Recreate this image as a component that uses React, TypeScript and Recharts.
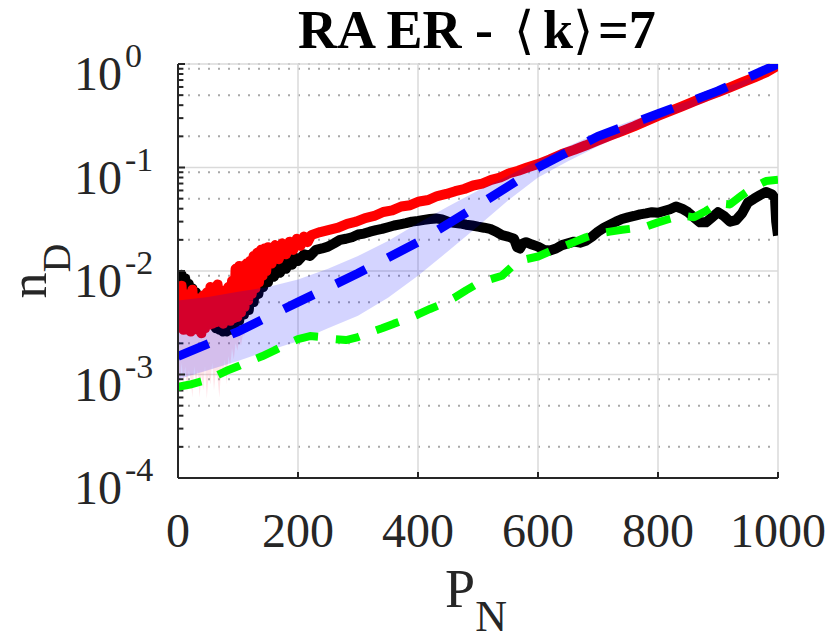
import {
  Area,
  CartesianGrid,
  ComposedChart,
  Line,
  ReferenceLine,
  XAxis,
  YAxis,
} from 'recharts'

// axis ticks
const X_TICKS = [0, 200, 400, 600, 800, 1000]
const Y_TICKS = [1e-4, 1e-3, 1e-2, 1e-1, 1]
const Y_MINOR = [
  2e-4, 3e-4, 4e-4, 5e-4, 6e-4, 7e-4, 8e-4, 9e-4,
  2e-3, 3e-3, 4e-3, 5e-3, 6e-3, 7e-3, 8e-3, 9e-3,
  2e-2, 3e-2, 4e-2, 5e-2, 6e-2, 7e-2, 8e-2, 9e-2,
  0.2, 0.3, 0.4, 0.5, 0.6, 0.7, 0.8, 0.9,
]

// red: noisy curve [P_N, n_D]
const RED_PTS: [number, number][] = [
  [0, 0.0068], [3, 0.0031], [6, 0.0072], [9, 0.0027], [12, 0.006], [15, 0.0029],
  [18, 0.0052], [21, 0.0026], [24, 0.0066], [27, 0.003], [30, 0.0055], [33, 0.0027],
  [36, 0.0048], [39, 0.0025], [42, 0.0058], [45, 0.0028], [48, 0.0062], [51, 0.003],
  [54, 0.007], [57, 0.0031], [60, 0.0056], [63, 0.0032], [66, 0.0074], [69, 0.0033],
  [72, 0.0065], [75, 0.0031], [78, 0.006], [81, 0.0034], [84, 0.007], [87, 0.0033],
  [90, 0.008], [93, 0.0035], [96, 0.0105], [99, 0.0036], [102, 0.0112], [105, 0.004],
  [108, 0.01], [111, 0.0045], [114, 0.0118], [117, 0.0052], [120, 0.0125], [123, 0.006],
  [126, 0.014], [129, 0.0068], [132, 0.015], [135, 0.0078], [138, 0.016], [141, 0.009],
  [144, 0.0165], [147, 0.01], [150, 0.017], [156, 0.0118], [162, 0.0178], [168, 0.013],
  [174, 0.0185], [180, 0.0145], [186, 0.0192], [192, 0.016], [198, 0.0205], [204, 0.0175],
  [210, 0.0215], [216, 0.019], [222, 0.0222], [237, 0.0238], [252, 0.025], [267, 0.0262],
  [282, 0.0285], [297, 0.03], [312, 0.0325], [327, 0.034], [342, 0.0372], [357, 0.0385],
  [372, 0.042], [387, 0.0432], [402, 0.047], [417, 0.0485], [432, 0.053], [447, 0.0555],
  [462, 0.059], [477, 0.062], [492, 0.067], [507, 0.07], [522, 0.076], [537, 0.08],
  [552, 0.088], [567, 0.093], [582, 0.1], [600, 0.108], [620, 0.12], [640, 0.135],
  [660, 0.148], [680, 0.164], [700, 0.183], [720, 0.203], [740, 0.225], [760, 0.25],
  [780, 0.28], [800, 0.315], [820, 0.35], [840, 0.39], [860, 0.435], [880, 0.485],
  [900, 0.535], [920, 0.595], [940, 0.665], [960, 0.74], [980, 0.83], [1000, 0.97],
]

// faint spread under the red curve at small P_N
const PINK_X = [0, 3, 6, 9, 12, 15, 18, 21, 24, 27, 30, 33, 36, 39, 42, 45, 48, 51, 54, 57, 60, 63, 66, 69, 72, 75, 78, 81, 84, 87, 90, 93, 96, 99, 102, 105, 108, 111]
const PINK_LO = [
  0.0011, 0.0007, 0.0013, 0.0008, 0.0012, 0.00065, 0.0011, 0.0009, 0.0006, 0.0012,
  0.0008, 0.0011, 0.0006, 0.001, 0.0007, 0.0012, 0.00058, 0.001, 0.0008, 0.0013,
  0.0007, 0.0011, 0.0009, 0.0006, 0.0012, 0.0009, 0.0014, 0.0008, 0.0015, 0.0012,
  0.0018, 0.0014, 0.002, 0.0017, 0.0022, 0.0019, 0.0024, 0.0024,
]
const PINK_HI = 0.003

// black: noisy curve
const BLACK_PTS: [number, number][] = [
  [0, 0.0098], [3, 0.0078], [6, 0.0092], [9, 0.007], [12, 0.0085], [15, 0.0062],
  [18, 0.0075], [21, 0.0056], [24, 0.0068], [27, 0.0052], [30, 0.0062], [33, 0.0047],
  [36, 0.0056], [39, 0.0043], [42, 0.005], [45, 0.0039], [48, 0.0045], [51, 0.0035],
  [54, 0.004], [57, 0.0031], [60, 0.0036], [63, 0.0028], [66, 0.0032], [69, 0.0027],
  [72, 0.003], [75, 0.0026], [78, 0.0029], [81, 0.0026], [84, 0.0031], [87, 0.0027],
  [90, 0.004], [94, 0.003], [98, 0.0052], [102, 0.0033], [106, 0.006], [110, 0.0038],
  [114, 0.0068], [118, 0.0042], [122, 0.0075], [126, 0.005], [130, 0.0085], [134, 0.006],
  [138, 0.0092], [142, 0.007], [146, 0.01], [150, 0.0078], [155, 0.0108], [160, 0.0088],
  [165, 0.0115], [170, 0.0096], [175, 0.0122], [180, 0.0105], [185, 0.0128], [190, 0.0115],
  [195, 0.0135], [200, 0.0125], [210, 0.0145], [220, 0.014], [230, 0.016], [240, 0.0165],
  [250, 0.0172], [260, 0.0185], [270, 0.02], [280, 0.0205], [290, 0.0212], [300, 0.0225],
  [310, 0.023], [320, 0.024], [330, 0.0248], [340, 0.0255], [350, 0.0265], [360, 0.0275],
  [370, 0.0282], [380, 0.029], [390, 0.03], [400, 0.0305], [410, 0.0312], [420, 0.0318],
  [430, 0.0322], [440, 0.0315], [450, 0.03], [460, 0.0292], [470, 0.0288], [480, 0.028],
  [490, 0.0275], [500, 0.0268], [510, 0.0262], [520, 0.0255], [530, 0.024], [540, 0.0222],
  [550, 0.0215], [560, 0.0205], [565, 0.017], [570, 0.0165], [575, 0.0185], [580, 0.019],
  [590, 0.018], [600, 0.0172], [610, 0.016], [620, 0.0158], [630, 0.0165], [640, 0.0178],
  [650, 0.0185], [660, 0.0192], [670, 0.0188], [680, 0.0196], [690, 0.0215], [700, 0.024],
  [710, 0.0262], [720, 0.028], [730, 0.03], [740, 0.0318], [750, 0.033], [760, 0.034],
  [770, 0.0352], [780, 0.036], [790, 0.037], [800, 0.0365], [810, 0.038], [820, 0.0395],
  [830, 0.042], [840, 0.04], [850, 0.037], [860, 0.033], [870, 0.0295], [880, 0.0295],
  [890, 0.033], [900, 0.037], [910, 0.034], [920, 0.03], [930, 0.031], [940, 0.036],
  [950, 0.046], [960, 0.05], [970, 0.054], [980, 0.058], [990, 0.055], [995, 0.05],
  [997, 0.03], [1000, 0.022],
]

// blue dashed curve and its shaded spread
const BLUE_X = [0, 100, 200, 300, 400, 500, 600, 700, 800, 900, 1000]
const BLUE_Y = [0.0015, 0.0026, 0.005, 0.0095, 0.019, 0.043, 0.1, 0.2, 0.33, 0.55, 1.0]

const BAND_X = [0, 50, 100, 150, 200, 250, 300, 350, 400, 450, 500, 550, 600, 650, 700, 750, 800, 850, 900, 950, 1000]
const BAND_LO = [0.0009, 0.0011, 0.00135, 0.0017, 0.0021, 0.0028, 0.0037, 0.0055, 0.009, 0.0155, 0.027, 0.048, 0.08, 0.115, 0.16, 0.215, 0.29, 0.37, 0.48, 0.64, 0.93]
const BAND_HI = [0.0052, 0.0056, 0.0063, 0.007, 0.0083, 0.0105, 0.014, 0.0195, 0.029, 0.042, 0.06, 0.083, 0.118, 0.16, 0.215, 0.275, 0.35, 0.44, 0.56, 0.72, 1.0]

// green dashed curve
const GREEN_X = [
  0, 20, 40, 60, 80, 100, 120, 140, 160, 180, 200, 220, 240, 260, 280, 300, 320, 340,
  360, 380, 400, 420, 440, 460, 480, 500, 520, 540, 560, 580, 600, 620, 640, 660, 680,
  700, 720, 740, 760, 780, 800, 820, 840, 860, 880, 900, 920, 940, 960, 980, 1000,
]
const GREEN_Y = [
  0.00076, 0.0008, 0.00086, 0.00095, 0.00108, 0.0012, 0.00135, 0.0015, 0.0017, 0.00195,
  0.0022, 0.00235, 0.0023, 0.0022, 0.00215, 0.0023, 0.00255, 0.0028, 0.0031, 0.0034,
  0.0038, 0.0043, 0.0048, 0.0055, 0.0065, 0.0076, 0.0083, 0.009, 0.0115, 0.013, 0.0138,
  0.0155, 0.017, 0.019, 0.0212, 0.023, 0.024, 0.025, 0.0258, 0.0268, 0.0295, 0.032,
  0.0345, 0.033, 0.038, 0.045, 0.044, 0.054, 0.065, 0.074, 0.076,
]

const redData = RED_PTS.map(([x, y]) => ({ x, y }))
const blackData = BLACK_PTS.map(([x, y]) => ({ x, y }))
const pinkData = PINK_X.map((x, i) => ({ x, band: [PINK_LO[i], PINK_HI] }))
const blueData = BLUE_X.map((x, i) => ({ x, y: BLUE_Y[i] }))
const bandData = BAND_X.map((x, i) => ({ x, band: [BAND_LO[i], BAND_HI[i]] }))
const greenData = GREEN_X.map((x, i) => ({ x, y: GREEN_Y[i] }))

const SERIF = 'Liberation Serif, Times New Roman, serif'
const BRACKET_FONT = 'DejaVu Serif, DejaVu Sans, serif'
const AXIS = '#262626'

function XTick({ x, y, payload }: any) {
  return (
    <g>
      <line x1={x} x2={x} y1={y} y2={y - 6} stroke={AXIS} strokeWidth={2} />
      <text x={x} y={y + 69} textAnchor="middle" fontSize={48} fontFamily={SERIF} fill={AXIS}>
        {payload.value}
      </text>
    </g>
  )
}

function YTick({ x, y, payload }: any) {
  const exp = Math.round(Math.log10(payload.value))
  return (
    <g>
      <line x1={x} x2={x + 7} y1={y} y2={y} stroke={AXIS} strokeWidth={2} />
      <text x={x - 56} y={y + 26} textAnchor="end" fontSize={48} fontFamily={SERIF} fill={AXIS}>
        10
      </text>
      <text x={x - 53} y={y + 3} textAnchor="start" fontSize={34} fontFamily={SERIF} fill={AXIS}>
        {String(exp)}
      </text>
    </g>
  )
}

export default function App() {
  return (
    <div style={{ position: 'absolute', left: 0, top: 0, width: 830, height: 644, background: '#fff' }}>
      <ComposedChart width={830} height={644} margin={{ top: 64, right: 52, bottom: 86, left: 0 }}>
        <CartesianGrid yAxisId="minor" vertical={false} stroke="#a8a8a8" strokeWidth={2} strokeDasharray="2 8" />
        <CartesianGrid stroke="#dadada" strokeWidth={1.5} />
        <XAxis
          type="number"
          dataKey="x"
          domain={[0, 1000]}
          ticks={X_TICKS}
          allowDataOverflow
          height={80}
          tickSize={0}
          tickMargin={0}
          tickLine={false}
          axisLine={{ stroke: AXIS, strokeWidth: 2 }}
          tick={<XTick />}
        />
        <YAxis
          type="number"
          scale="log"
          domain={[1e-4, 1]}
          ticks={Y_TICKS}
          allowDataOverflow
          width={178}
          tickSize={0}
          tickMargin={0}
          tickLine={false}
          axisLine={{ stroke: AXIS, strokeWidth: 2 }}
          tick={<YTick />}
        />
        <YAxis yAxisId="minor" hide type="number" scale="log" domain={[1e-4, 1]} ticks={Y_MINOR} allowDataOverflow />

        <Area zIndex={390} data={pinkData} dataKey="band" type="linear" stroke="none" fill="#ff3355" fillOpacity={0.13} isAnimationActive={false} />
        <Line zIndex={401} data={blackData} dataKey="y" type="linear" stroke="#000000" strokeWidth={10} strokeLinejoin="round" dot={false} isAnimationActive={false} />
        <Line zIndex={402} data={redData} dataKey="y" type="linear" stroke="#ff0000" strokeWidth={10} strokeLinejoin="round" dot={false} isAnimationActive={false} />
        <Area zIndex={403} data={bandData} dataKey="band" type="linear" stroke="none" fill="#0000ff" fillOpacity={0.17} isAnimationActive={false} />
        <Line zIndex={404} data={blueData} dataKey="y" type="linear" stroke="#0000ff" strokeWidth={9} strokeDasharray="33 25" dot={false} isAnimationActive={false} />
        <Line zIndex={405} data={greenData} dataKey="y" type="linear" stroke="#00ff00" strokeWidth={8} strokeDasharray="24 18" strokeLinejoin="round" dot={false} isAnimationActive={false} />

        {Y_MINOR.map((v) => (
          <ReferenceLine key={v} segment={[{ x: 0, y: v }, { x: 9, y: v }]} stroke={AXIS} strokeWidth={2} />
        ))}
      </ComposedChart>

      <svg width={830} height={644} style={{ position: 'absolute', left: 0, top: 0, pointerEvents: 'none' }}>
        <g fontSize={54} fontWeight="bold" fontFamily={SERIF} fill="#000">
          <text x={298} y={48}>RA ER -</text>
          <text x={514} y={48} fontSize={52} fontWeight="normal" fontFamily={BRACKET_FONT}>⟨</text>
          <text x={543} y={48}>k</text>
          <text x={573} y={48} fontSize={52} fontWeight="normal" fontFamily={BRACKET_FONT}>⟩</text>
          <text x={598} y={48}>=7</text>
        </g>
        <text x={476} y={607} textAnchor="middle" fontSize={54} fontFamily={SERIF} fill={AXIS}>
          P<tspan fontSize={44} dy={24}>N</tspan>
        </text>
        <text transform="translate(46,271) rotate(-90)" textAnchor="middle" fontSize={52} fontFamily={SERIF} fill={AXIS}>
          n<tspan fontSize={40} dy={24}>D</tspan>
        </text>
      </svg>
    </div>
  )
}
